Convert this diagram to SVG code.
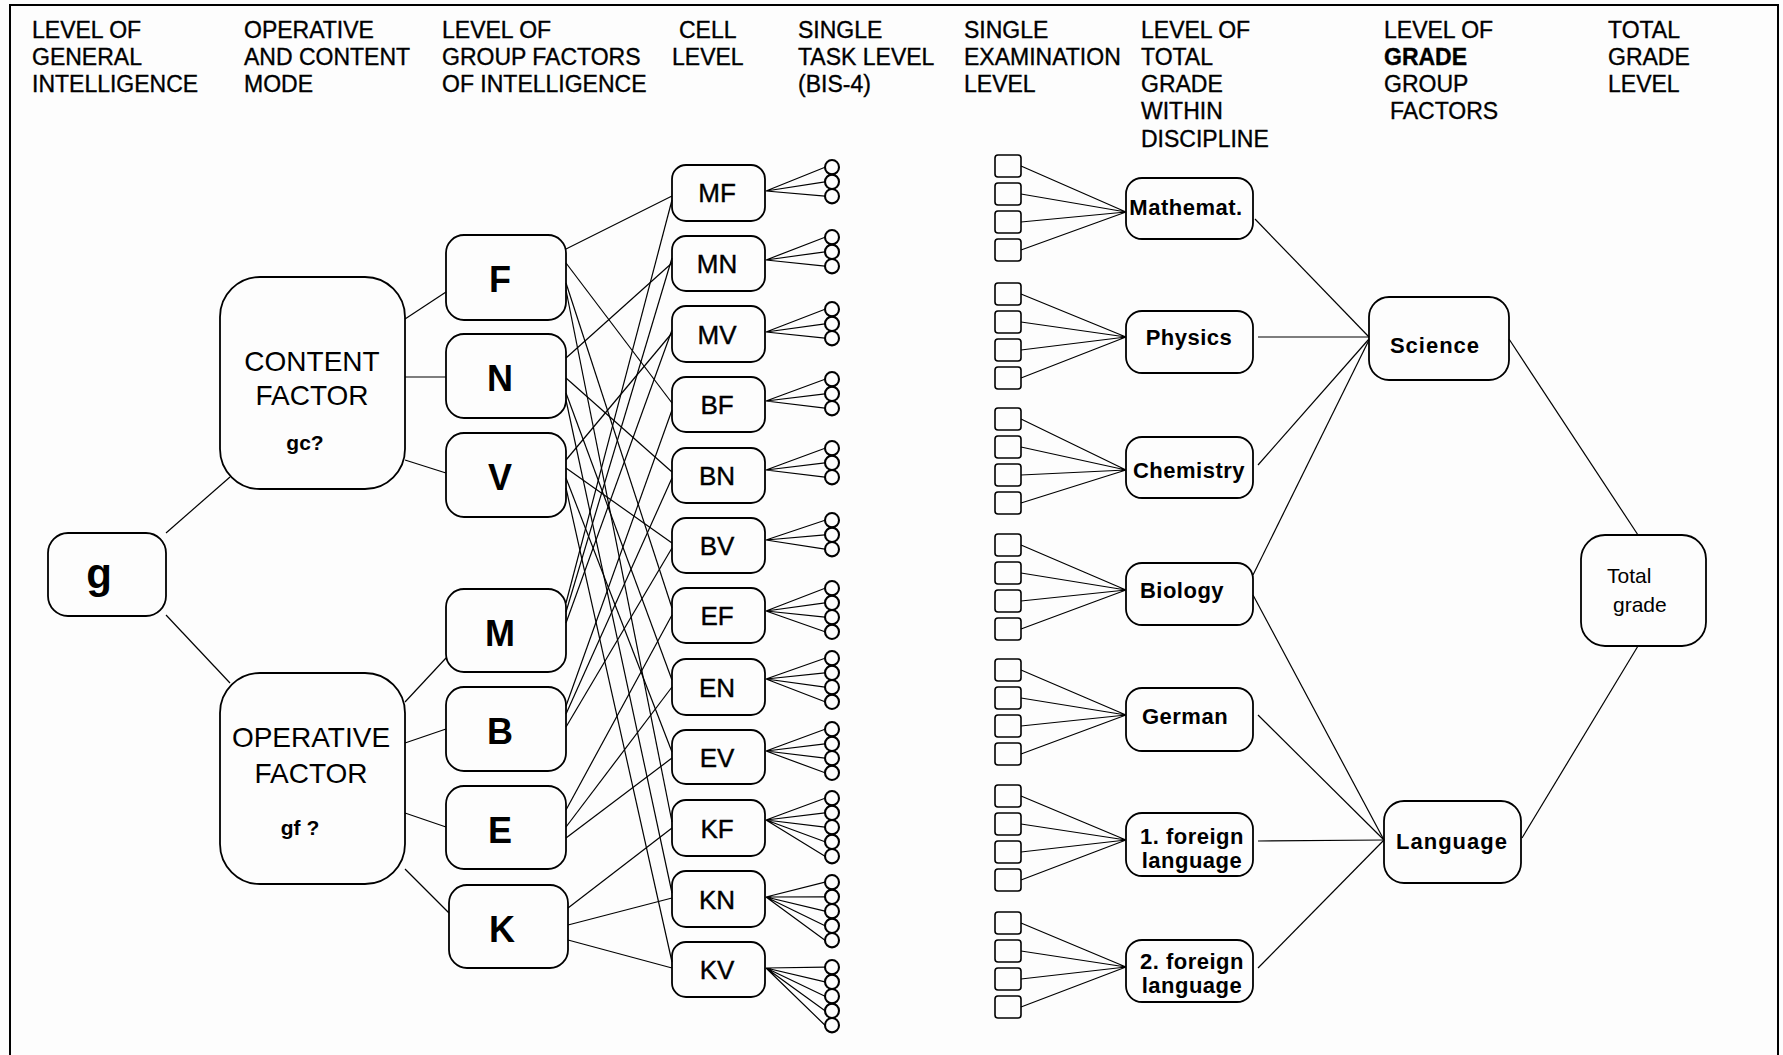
<svg xmlns="http://www.w3.org/2000/svg" width="1783" height="1055" viewBox="0 0 1783 1055">
<style>
.bg{fill:#fdfdfd}
.box{fill:none;stroke:#000;stroke-width:1.8}
.ln{stroke:#000;stroke-width:1.2;fill:none}
.hd{font-family:"Liberation Sans",Arial,sans-serif;font-size:23px;fill:#000;stroke:#000;stroke-width:0.35}
.big{font-family:"Liberation Sans",Arial,sans-serif;font-size:28px;fill:#000;text-anchor:middle}
.sm{font-family:"Liberation Sans",Arial,sans-serif;font-size:21px;font-weight:bold;fill:#000;text-anchor:middle}
.gl{font-family:"Liberation Sans",Arial,sans-serif;font-size:36px;font-weight:bold;fill:#000;text-anchor:middle}
.cl{font-family:"Liberation Sans",Arial,sans-serif;font-size:26px;fill:#000;stroke:#000;stroke-width:0.4;text-anchor:middle}
.dl{font-family:"Liberation Sans",Arial,sans-serif;font-size:22px;font-weight:bold;letter-spacing:0.5px;fill:#000;text-anchor:middle}
.gr{font-family:"Liberation Sans",Arial,sans-serif;font-size:22px;font-weight:bold;letter-spacing:1px;fill:#000;text-anchor:middle}
.tg{font-family:"Liberation Sans",Arial,sans-serif;font-size:21px;fill:#000}
.c{fill:none;stroke:#000;stroke-width:2.1}
.sq{fill:none;stroke:#000;stroke-width:1.6}
</style>
<rect class="bg" x="0" y="0" width="1783" height="1055"/>
<path d="M10,1055 V5 H1778 V1055" fill="none" stroke="#000" stroke-width="2"/>

<g id="headers">
<text class="hd" x="32" y="38">LEVEL OF</text>
<text class="hd" x="32" y="65">GENERAL</text>
<text class="hd" x="32" y="92">INTELLIGENCE</text>
<text class="hd" x="244" y="38">OPERATIVE</text>
<text class="hd" x="244" y="65">AND CONTENT</text>
<text class="hd" x="244" y="92">MODE</text>
<text class="hd" x="442" y="38">LEVEL OF</text>
<text class="hd" x="442" y="65">GROUP FACTORS</text>
<text class="hd" x="442" y="92">OF INTELLIGENCE</text>
<text class="hd" x="679" y="38">CELL</text>
<text class="hd" x="672" y="65">LEVEL</text>
<text class="hd" x="798" y="38">SINGLE</text>
<text class="hd" x="798" y="65">TASK LEVEL</text>
<text class="hd" x="798" y="92">(BIS-4)</text>
<text class="hd" x="964" y="38">SINGLE</text>
<text class="hd" x="964" y="65">EXAMINATION</text>
<text class="hd" x="964" y="92">LEVEL</text>
<text class="hd" x="1141" y="38">LEVEL OF</text>
<text class="hd" x="1141" y="65">TOTAL</text>
<text class="hd" x="1141" y="92">GRADE</text>
<text class="hd" x="1141" y="119">WITHIN</text>
<text class="hd" x="1141" y="147">DISCIPLINE</text>
<text class="hd" x="1384" y="38">LEVEL OF</text>
<text class="hd" x="1384" y="65" font-weight="bold">GRADE</text>
<text class="hd" x="1384" y="92">GROUP</text>
<text class="hd" x="1390" y="119">FACTORS</text>
<text class="hd" x="1608" y="38">TOTAL</text>
<text class="hd" x="1608" y="65">GRADE</text>
<text class="hd" x="1608" y="92">LEVEL</text>
</g>

<g id="connectors">
<line class="ln" x1="166" y1="533" x2="230" y2="477"/>
<line class="ln" x1="166" y1="615" x2="230" y2="683"/>
<line class="ln" x1="405" y1="319" x2="446" y2="292"/>
<line class="ln" x1="405" y1="377" x2="446" y2="377"/>
<line class="ln" x1="405" y1="460" x2="446" y2="473"/>
<line class="ln" x1="405" y1="702" x2="446" y2="658"/>
<line class="ln" x1="405" y1="743" x2="446" y2="729"/>
<line class="ln" x1="405" y1="813" x2="446" y2="827"/>
<line class="ln" x1="405" y1="869" x2="449" y2="913"/>
<line class="ln" x1="566" y1="249" x2="672" y2="196"/>
<line class="ln" x1="566" y1="263" x2="672" y2="403"/>
<line class="ln" x1="566" y1="283" x2="672" y2="608"/>
<line class="ln" x1="566" y1="290" x2="672" y2="822"/>
<line class="ln" x1="566" y1="358" x2="672" y2="263"/>
<line class="ln" x1="566" y1="378" x2="672" y2="472"/>
<line class="ln" x1="566" y1="393" x2="672" y2="680"/>
<line class="ln" x1="566" y1="400" x2="672" y2="893"/>
<line class="ln" x1="566" y1="460" x2="672" y2="333"/>
<line class="ln" x1="566" y1="468" x2="672" y2="543"/>
<line class="ln" x1="566" y1="478" x2="672" y2="752"/>
<line class="ln" x1="566" y1="488" x2="672" y2="962"/>
<line class="ln" x1="566" y1="603" x2="672" y2="200"/>
<line class="ln" x1="566" y1="612" x2="672" y2="258"/>
<line class="ln" x1="566" y1="623" x2="672" y2="330"/>
<line class="ln" x1="566" y1="706" x2="672" y2="410"/>
<line class="ln" x1="566" y1="714" x2="672" y2="478"/>
<line class="ln" x1="566" y1="727" x2="672" y2="548"/>
<line class="ln" x1="566" y1="810" x2="672" y2="615"/>
<line class="ln" x1="566" y1="827" x2="672" y2="687"/>
<line class="ln" x1="566" y1="838" x2="672" y2="758"/>
<line class="ln" x1="568" y1="908" x2="672" y2="828"/>
<line class="ln" x1="568" y1="925" x2="672" y2="898"/>
<line class="ln" x1="568" y1="940" x2="672" y2="968"/>
<path class="ln" d="M766,191 L825,167.2 M766,191 L825,181.8 M766,191 L825,196.2"/>
<path class="ln" d="M766,260 L825,237.2 M766,260 L825,251.8 M766,260 L825,266.2"/>
<path class="ln" d="M766,332 L825,309.2 M766,332 L825,323.8 M766,332 L825,338.2"/>
<path class="ln" d="M766,401 L825,379.2 M766,401 L825,393.8 M766,401 L825,408.2"/>
<path class="ln" d="M766,470 L825,448.2 M766,470 L825,462.8 M766,470 L825,477.2"/>
<path class="ln" d="M766,540 L825,520.2 M766,540 L825,534.8 M766,540 L825,549.2"/>
<path class="ln" d="M766,611 L825,588.2 M766,611 L825,602.8 M766,611 L825,617.2 M766,611 L825,631.8"/>
<path class="ln" d="M766,679 L825,658.2 M766,679 L825,672.8 M766,679 L825,687.2 M766,679 L825,701.8"/>
<path class="ln" d="M766,751 L825,729.2 M766,751 L825,743.8 M766,751 L825,758.2 M766,751 L825,772.8"/>
<path class="ln" d="M766,820 L825,798.2 M766,820 L825,812.8 M766,820 L825,827.2 M766,820 L825,841.8 M766,820 L825,856.2"/>
<path class="ln" d="M766,897 L825,882.2 M766,897 L825,896.8 M766,897 L825,911.2 M766,897 L825,925.8 M766,897 L825,940.2"/>
<path class="ln" d="M766,968 L825,967.2 M766,968 L825,981.8 M766,968 L825,996.2 M766,968 L825,1010.8 M766,968 L825,1025.2"/>
<path class="ln" d="M1021,166 L1126,212 M1021,194 L1126,212 M1021,222 L1126,212 M1021,250 L1126,212"/>
<path class="ln" d="M1021,294 L1126,337 M1021,322 L1126,337 M1021,350 L1126,337 M1021,378 L1126,337"/>
<path class="ln" d="M1021,419 L1126,470 M1021,447 L1126,470 M1021,475 L1126,470 M1021,503 L1126,470"/>
<path class="ln" d="M1021,545 L1126,590 M1021,573 L1126,590 M1021,601 L1126,590 M1021,629 L1126,590"/>
<path class="ln" d="M1021,670 L1126,715 M1021,698 L1126,715 M1021,726 L1126,715 M1021,754 L1126,715"/>
<path class="ln" d="M1021,796 L1126,840 M1021,824 L1126,840 M1021,852 L1126,840 M1021,880 L1126,840"/>
<path class="ln" d="M1021,923 L1126,967 M1021,951 L1126,967 M1021,979 L1126,967 M1021,1007 L1126,967"/>
<line class="ln" x1="1255" y1="219" x2="1369" y2="337"/>
<line class="ln" x1="1258" y1="337" x2="1369" y2="337"/>
<line class="ln" x1="1258" y1="465" x2="1369" y2="339"/>
<line class="ln" x1="1253" y1="575" x2="1369" y2="340"/>
<line class="ln" x1="1253" y1="595" x2="1384" y2="840"/>
<line class="ln" x1="1258" y1="715" x2="1384" y2="840"/>
<line class="ln" x1="1258" y1="841" x2="1384" y2="840"/>
<line class="ln" x1="1258" y1="968" x2="1384" y2="840"/>
<line class="ln" x1="1509" y1="339" x2="1638" y2="535"/>
<line class="ln" x1="1638" y1="646" x2="1522" y2="838"/>
</g>

<g id="node-g"><rect class="box" x="48" y="533" width="118" height="83" rx="20"/><text x="99" y="588" font-family="Liberation Sans,Arial,sans-serif" font-size="42" font-weight="bold" text-anchor="middle">g</text></g>
<g id="node-content"><rect class="box" x="220" y="277" width="185" height="212" rx="40"/><text class="big" x="312" y="371">CONTENT</text><text class="big" x="312" y="405">FACTOR</text><text class="sm" x="305" y="450">gc?</text></g>
<g id="node-operative"><rect class="box" x="220" y="673" width="185" height="211" rx="40"/><text class="big" x="311" y="747">OPERATIVE</text><text class="big" x="311" y="783">FACTOR</text><text class="sm" x="300" y="835">gf ?</text></g>

<g id="node-F"><rect class="box" x="446" y="235" width="120" height="85" rx="18"/><text class="gl" x="500" y="292">F</text></g>
<g id="node-N"><rect class="box" x="446" y="334" width="120" height="84" rx="18"/><text class="gl" x="500" y="391">N</text></g>
<g id="node-V"><rect class="box" x="446" y="433" width="120" height="84" rx="18"/><text class="gl" x="500" y="490">V</text></g>
<g id="node-M"><rect class="box" x="446" y="589" width="120" height="83" rx="18"/><text class="gl" x="500" y="646">M</text></g>
<g id="node-B"><rect class="box" x="446" y="687" width="120" height="84" rx="18"/><text class="gl" x="500" y="744">B</text></g>
<g id="node-E"><rect class="box" x="446" y="786" width="120" height="83" rx="18"/><text class="gl" x="500" y="843">E</text></g>
<g id="node-K"><rect class="box" x="449" y="885" width="119" height="83" rx="18"/><text class="gl" x="502" y="942">K</text></g>

<g id="node-MF"><rect class="box" x="672" y="165" width="93" height="56" rx="14"/><text class="cl" x="717" y="202">MF</text></g>
<g id="node-MN"><rect class="box" x="672" y="236" width="93" height="55" rx="14"/><text class="cl" x="717" y="273">MN</text></g>
<g id="node-MV"><rect class="box" x="672" y="306" width="93" height="56" rx="14"/><text class="cl" x="717" y="344">MV</text></g>
<g id="node-BF"><rect class="box" x="672" y="377" width="93" height="55" rx="14"/><text class="cl" x="717" y="414">BF</text></g>
<g id="node-BN"><rect class="box" x="672" y="448" width="93" height="55" rx="14"/><text class="cl" x="717" y="485">BN</text></g>
<g id="node-BV"><rect class="box" x="672" y="518" width="93" height="55" rx="14"/><text class="cl" x="717" y="555">BV</text></g>
<g id="node-EF"><rect class="box" x="672" y="588" width="93" height="55" rx="14"/><text class="cl" x="717" y="625">EF</text></g>
<g id="node-EN"><rect class="box" x="672" y="659" width="93" height="56" rx="14"/><text class="cl" x="717" y="697">EN</text></g>
<g id="node-EV"><rect class="box" x="672" y="730" width="93" height="54" rx="14"/><text class="cl" x="717" y="767">EV</text></g>
<g id="node-KF"><rect class="box" x="672" y="800" width="93" height="56" rx="14"/><text class="cl" x="717" y="838">KF</text></g>
<g id="node-KN"><rect class="box" x="672" y="871" width="93" height="56" rx="14"/><text class="cl" x="717" y="909">KN</text></g>
<g id="node-KV"><rect class="box" x="672" y="942" width="93" height="55" rx="14"/><text class="cl" x="717" y="979">KV</text></g>

<g id="tasks">
<ellipse class="c" cx="832" cy="167.2" rx="7" ry="7.2"/><ellipse class="c" cx="832" cy="181.8" rx="7" ry="7.2"/><ellipse class="c" cx="832" cy="196.2" rx="7" ry="7.2"/>
<ellipse class="c" cx="832" cy="237.2" rx="7" ry="7.2"/><ellipse class="c" cx="832" cy="251.8" rx="7" ry="7.2"/><ellipse class="c" cx="832" cy="266.2" rx="7" ry="7.2"/>
<ellipse class="c" cx="832" cy="309.2" rx="7" ry="7.2"/><ellipse class="c" cx="832" cy="323.8" rx="7" ry="7.2"/><ellipse class="c" cx="832" cy="338.2" rx="7" ry="7.2"/>
<ellipse class="c" cx="832" cy="379.2" rx="7" ry="7.2"/><ellipse class="c" cx="832" cy="393.8" rx="7" ry="7.2"/><ellipse class="c" cx="832" cy="408.2" rx="7" ry="7.2"/>
<ellipse class="c" cx="832" cy="448.2" rx="7" ry="7.2"/><ellipse class="c" cx="832" cy="462.8" rx="7" ry="7.2"/><ellipse class="c" cx="832" cy="477.2" rx="7" ry="7.2"/>
<ellipse class="c" cx="832" cy="520.2" rx="7" ry="7.2"/><ellipse class="c" cx="832" cy="534.8" rx="7" ry="7.2"/><ellipse class="c" cx="832" cy="549.2" rx="7" ry="7.2"/>
<ellipse class="c" cx="832" cy="588.2" rx="7" ry="7.2"/><ellipse class="c" cx="832" cy="602.8" rx="7" ry="7.2"/><ellipse class="c" cx="832" cy="617.2" rx="7" ry="7.2"/><ellipse class="c" cx="832" cy="631.8" rx="7" ry="7.2"/>
<ellipse class="c" cx="832" cy="658.2" rx="7" ry="7.2"/><ellipse class="c" cx="832" cy="672.8" rx="7" ry="7.2"/><ellipse class="c" cx="832" cy="687.2" rx="7" ry="7.2"/><ellipse class="c" cx="832" cy="701.8" rx="7" ry="7.2"/>
<ellipse class="c" cx="832" cy="729.2" rx="7" ry="7.2"/><ellipse class="c" cx="832" cy="743.8" rx="7" ry="7.2"/><ellipse class="c" cx="832" cy="758.2" rx="7" ry="7.2"/><ellipse class="c" cx="832" cy="772.8" rx="7" ry="7.2"/>
<ellipse class="c" cx="832" cy="798.2" rx="7" ry="7.2"/><ellipse class="c" cx="832" cy="812.8" rx="7" ry="7.2"/><ellipse class="c" cx="832" cy="827.2" rx="7" ry="7.2"/><ellipse class="c" cx="832" cy="841.8" rx="7" ry="7.2"/><ellipse class="c" cx="832" cy="856.2" rx="7" ry="7.2"/>
<ellipse class="c" cx="832" cy="882.2" rx="7" ry="7.2"/><ellipse class="c" cx="832" cy="896.8" rx="7" ry="7.2"/><ellipse class="c" cx="832" cy="911.2" rx="7" ry="7.2"/><ellipse class="c" cx="832" cy="925.8" rx="7" ry="7.2"/><ellipse class="c" cx="832" cy="940.2" rx="7" ry="7.2"/>
<ellipse class="c" cx="832" cy="967.2" rx="7" ry="7.2"/><ellipse class="c" cx="832" cy="981.8" rx="7" ry="7.2"/><ellipse class="c" cx="832" cy="996.2" rx="7" ry="7.2"/><ellipse class="c" cx="832" cy="1010.8" rx="7" ry="7.2"/><ellipse class="c" cx="832" cy="1025.2" rx="7" ry="7.2"/>
</g>

<g id="exams">
<rect class="sq" x="995" y="155" width="26" height="22" rx="3"/><rect class="sq" x="995" y="183" width="26" height="22" rx="3"/><rect class="sq" x="995" y="211" width="26" height="22" rx="3"/><rect class="sq" x="995" y="239" width="26" height="22" rx="3"/>
<rect class="sq" x="995" y="283" width="26" height="22" rx="3"/><rect class="sq" x="995" y="311" width="26" height="22" rx="3"/><rect class="sq" x="995" y="339" width="26" height="22" rx="3"/><rect class="sq" x="995" y="367" width="26" height="22" rx="3"/>
<rect class="sq" x="995" y="408" width="26" height="22" rx="3"/><rect class="sq" x="995" y="436" width="26" height="22" rx="3"/><rect class="sq" x="995" y="464" width="26" height="22" rx="3"/><rect class="sq" x="995" y="492" width="26" height="22" rx="3"/>
<rect class="sq" x="995" y="534" width="26" height="22" rx="3"/><rect class="sq" x="995" y="562" width="26" height="22" rx="3"/><rect class="sq" x="995" y="590" width="26" height="22" rx="3"/><rect class="sq" x="995" y="618" width="26" height="22" rx="3"/>
<rect class="sq" x="995" y="659" width="26" height="22" rx="3"/><rect class="sq" x="995" y="687" width="26" height="22" rx="3"/><rect class="sq" x="995" y="715" width="26" height="22" rx="3"/><rect class="sq" x="995" y="743" width="26" height="22" rx="3"/>
<rect class="sq" x="995" y="785" width="26" height="22" rx="3"/><rect class="sq" x="995" y="813" width="26" height="22" rx="3"/><rect class="sq" x="995" y="841" width="26" height="22" rx="3"/><rect class="sq" x="995" y="869" width="26" height="22" rx="3"/>
<rect class="sq" x="995" y="912" width="26" height="22" rx="3"/><rect class="sq" x="995" y="940" width="26" height="22" rx="3"/><rect class="sq" x="995" y="968" width="26" height="22" rx="3"/><rect class="sq" x="995" y="996" width="26" height="22" rx="3"/>
</g>

<g id="node-math"><rect class="box" x="1126" y="178" width="127" height="61" rx="16"/><text class="dl" x="1186" y="215">Mathemat.</text></g>
<g id="node-physics"><rect class="box" x="1126" y="311" width="127" height="62" rx="16"/><text class="dl" x="1189" y="345">Physics</text></g>
<g id="node-chemistry"><rect class="box" x="1126" y="437" width="127" height="61" rx="16"/><text class="dl" x="1189" y="478">Chemistry</text></g>
<g id="node-biology"><rect class="box" x="1126" y="563" width="127" height="62" rx="16"/><text class="dl" x="1182" y="598">Biology</text></g>
<g id="node-german"><rect class="box" x="1126" y="688" width="127" height="63" rx="16"/><text class="dl" x="1185" y="724">German</text></g>
<g id="node-foreign1"><rect class="box" x="1126" y="813" width="127" height="63" rx="16"/><text class="dl" x="1192" y="844">1. foreign</text><text class="dl" x="1192" y="868">language</text></g>
<g id="node-foreign2"><rect class="box" x="1126" y="940" width="127" height="62" rx="16"/><text class="dl" x="1192" y="969">2. foreign</text><text class="dl" x="1192" y="993">language</text></g>

<g id="node-science"><rect class="box" x="1369" y="297" width="140" height="83" rx="20"/><text class="gr" x="1435" y="353">Science</text></g>
<g id="node-language"><rect class="box" x="1384" y="801" width="137" height="82" rx="20"/><text class="gr" x="1452" y="849">Language</text></g>
<g id="node-total"><rect class="box" x="1581" y="535" width="125" height="111" rx="24"/><text class="tg" x="1607" y="583">Total</text><text class="tg" x="1613" y="612">grade</text></g>
</svg>
